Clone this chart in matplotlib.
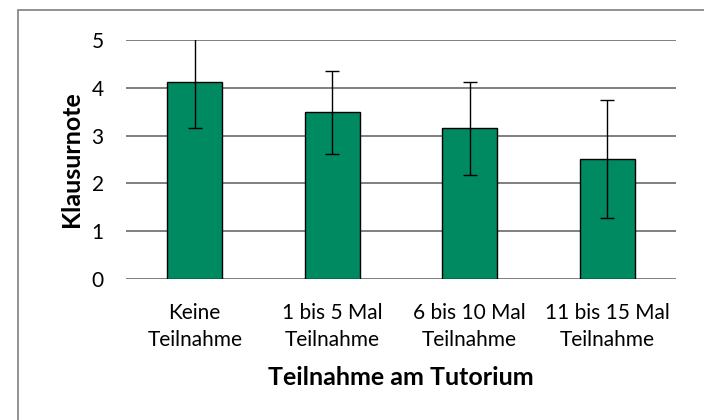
import matplotlib.pyplot as plt
from matplotlib.patches import Rectangle

# Data
categories = ['Keine\nTeilnahme', '1 bis 5 Mal\nTeilnahme', '6 bis 10 Mal\nTeilnahme', '11 bis 15 Mal\nTeilnahme']
means = [4.13, 3.49, 3.15, 2.51]
errors = [0.97, 0.87, 0.98, 1.24]
yticks = [0, 1, 2, 3, 4, 5]

plt.rcParams['font.family'] = ['Lato', 'DejaVu Sans']

fig = plt.figure(figsize=(7.04, 4.20), dpi=100)
ax = fig.add_axes([126 / 704, 1 - 279 / 420, 550 / 704, 239 / 420])

# outer chart border (runs off the right and bottom edge)
fig.patches.append(Rectangle((18 / 704, -0.1), 1.2, 1 - 10 / 420 + 0.1,
                             transform=fig.transFigure, fill=False,
                             edgecolor='#7f7f7f', linewidth=1.2))

x = range(len(categories))
ax.bar(x, means, width=0.4, color='#008a62', edgecolor='black', linewidth=1, zorder=2)
ax.errorbar(x, means, yerr=errors, fmt='none', ecolor='black', elinewidth=1,
            capsize=5, capthick=1, zorder=3)

ax.set_xlim(-0.5, 3.5)
ax.set_ylim(0, 5)
ax.set_yticks(yticks)
ax.set_xticks(list(x))
ax.set_xticklabels(categories, fontsize=15, linespacing=1.45)
ax.tick_params(axis='y', labelsize=15, length=0, pad=16)
ax.tick_params(axis='x', length=0, pad=17)
ax.grid(axis='y', color='#7f7f7f', linewidth=1.4, zorder=0)
ax.set_axisbelow(True)
for s in ax.spines.values():
    s.set_visible(False)

ax.set_ylabel('Klausurnote', fontsize=18, fontweight='bold', labelpad=6)
ax.set_xlabel('Teilnahme am Tutorium', fontsize=18, fontweight='bold', labelpad=12)

fig.savefig('out.png', dpi=100)
